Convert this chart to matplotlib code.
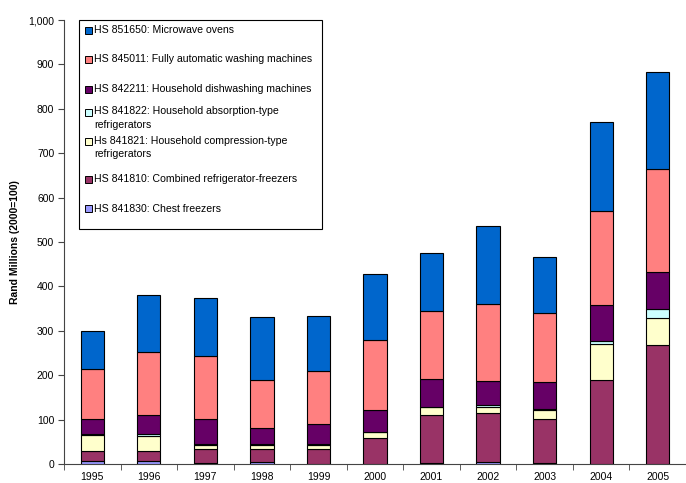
import matplotlib
matplotlib.use("Agg")
import matplotlib.pyplot as plt
from matplotlib.patches import Rectangle
import numpy as np

plt.rcParams['font.family'] = ['Liberation Sans', 'DejaVu Sans']

years = ['1995', '1996', '1997', '1998', '1999', '2000', '2001', '2002', '2003', '2004', '2005']

# stacked bottom -> top
chest_freezers = [6, 6, 3, 4, 1, 1, 3, 4, 3, 1, 1]
combined_fridge_freezers = [24, 24, 30, 30, 33, 57, 107, 111, 99, 188, 266]
compression_fridges = [35, 32, 10, 9, 9, 14, 18, 13, 20, 81, 61]
absorption_fridges = [3, 6, 3, 1, 1, 1, 1, 4, 1, 6, 20]
dishwashers = [33, 42, 56, 36, 45, 48, 63, 56, 62, 82, 84]
washing_machines = [112, 142, 141, 109, 121, 159, 152, 172, 155, 212, 233]
microwave_ovens = [87, 128, 132, 141, 123, 149, 131, 176, 127, 201, 217]

series = [
    ("HS 841830: Chest freezers", chest_freezers, "#9999FF"),
    ("HS 841810: Combined refrigerator-freezers", combined_fridge_freezers, "#993366"),
    ("Hs 841821: Household compression-type\nrefrigerators", compression_fridges, "#FFFFCC"),
    ("HS 841822: Household absorption-type\nrefrigerators", absorption_fridges, "#CCFFFF"),
    ("HS 842211: Household dishwashing machines", dishwashers, "#660066"),
    ("HS 845011: Fully automatic washing machines", washing_machines, "#FF8080"),
    ("HS 851650: Microwave ovens", microwave_ovens, "#0066CC"),
]

W, H = 686, 483
fig = plt.figure(figsize=(W / 100, H / 100), dpi=100)
ax = fig.add_axes([64 / W, 1 - 464 / H, (686 - 64) / W, (464 - 20) / H])

x = np.arange(len(years))
bottom = np.zeros(len(years))
for label, vals, color in series:
    v = np.array(vals, dtype=float)
    ax.bar(x, v, 0.41, bottom=bottom, color=color, edgecolor='black', linewidth=0.8, zorder=3)
    bottom += v

ax.set_ylim(0, 1000)
ax.set_xlim(-0.5, 10.45)
ax.set_yticks(np.arange(0, 1001, 100))
ax.set_yticklabels([f"{v:,}" for v in range(0, 1001, 100)], fontsize=7.5)
ax.set_xticks(x)
ax.set_xticklabels(years, fontsize=7.5)
ax.tick_params(axis='x', which='major', length=0, pad=6)
ax.set_xticks(np.arange(-0.5, 10.6, 1), minor=True)
ax.tick_params(axis='x', which='minor', length=4, direction='out', color='#444444')
ax.tick_params(axis='y', length=4, direction='out', color='#444444', pad=3)
for s in ['top', 'right']:
    ax.spines[s].set_visible(False)
for s in ['left', 'bottom']:
    ax.spines[s].set_color('#444444')
    ax.spines[s].set_linewidth(0.8)
ax.set_ylabel("Rand Millions (2000=100)", fontsize=7.5, fontweight='bold', labelpad=6)

# legend box drawn in figure pixels
def fx(px):
    return px / W
def fy(py):
    return 1 - py / H

fig.patches.append(Rectangle((fx(79), fy(229)), fx(322) - fx(79), fy(20) - fy(229),
                             transform=fig.transFigure, facecolor='white',
                             edgecolor='black', linewidth=0.8, zorder=5))
legend_rows = [
    (series[6], 30),
    (series[5], 59),
    (series[4], 89),
    (series[3], 112),
    (series[2], 141),
    (series[1], 179),
    (series[0], 209),
]
for (label, vals, color), py in legend_rows:
    fig.patches.append(Rectangle((fx(85), fy(py + 3.5)), fx(7), 7 / H,
                                 transform=fig.transFigure, facecolor=color,
                                 edgecolor='black', linewidth=0.7, zorder=6))
    if '\n' in label:
        fig.text(fx(94), fy(py - 5.5), label, fontsize=7.6, va='top', ha='left',
                 zorder=7, linespacing=1.4)
    else:
        fig.text(fx(94), fy(py), label, fontsize=7.6, va='center', ha='left', zorder=7)

fig.savefig("out.png", dpi=100)
